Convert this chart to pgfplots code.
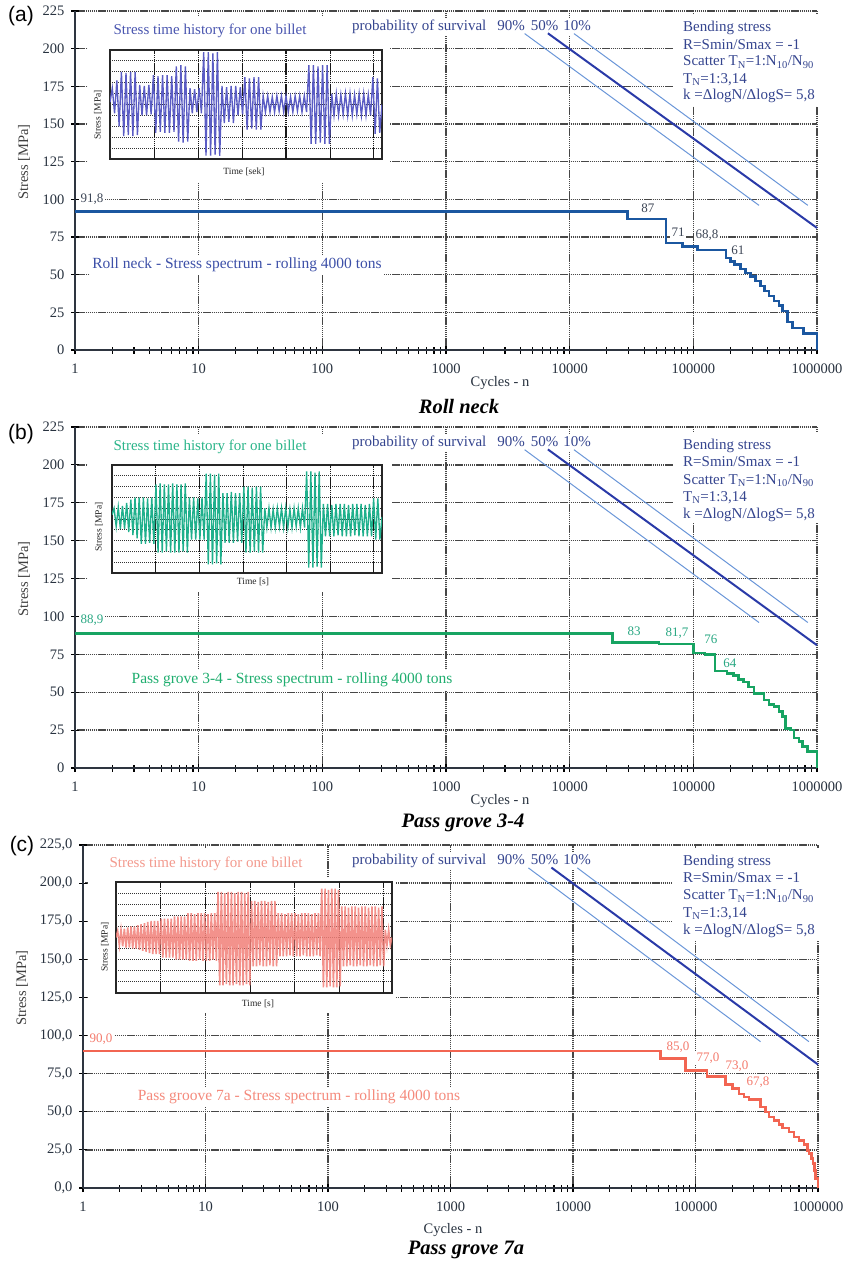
\documentclass[border=0pt]{standalone}
\usepackage{fontspec}
\setmainfont{Liberation Serif}
\newfontfamily\sansf{Liberation Sans}
\usepackage{pgfplots}
\usepackage{pgfplotstable}
\pgfplotsset{compat=1.18}

\newcommand{\fsz}[1]{\fontsize{#1}{#1}\selectfont}

\definecolor{axcol}{HTML}{2E3540}
\definecolor{tickcol}{HTML}{28323F}
\definecolor{annot}{HTML}{35458F}
\definecolor{snthickc}{HTML}{2A3AA8}
\definecolor{snthinc}{HTML}{6A96D8}
\definecolor{curA}{HTML}{1B57A0}
\definecolor{curB}{HTML}{17A462}
\definecolor{curC}{HTML}{F26552}
\definecolor{labA}{HTML}{3C4555}
\definecolor{labB}{HTML}{2AA883}
\definecolor{labC}{HTML}{F47A6C}
\definecolor{insA}{HTML}{5A5CC4}
\definecolor{insB}{HTML}{1FB08C}
\definecolor{insC}{HTML}{F28078}
\definecolor{titA}{HTML}{4A56B0}
\definecolor{titB}{HTML}{2BB58A}
\definecolor{titC}{HTML}{F39A8E}
\definecolor{specA}{HTML}{3D50A8}
\definecolor{specB}{HTML}{1FAE6F}
\definecolor{specC}{HTML}{F58A7C}

\pgfplotstableread[row sep=\\]{y\\5.2\\6.5\\4.2\\7.2\\3.0\\8.0\\2.1\\7.9\\2.2\\8.0\\2.1\\8.0\\2.2\\6.8\\4.0\\6.7\\4.0\\6.8\\4.1\\7.7\\2.4\\7.6\\2.5\\7.7\\2.4\\7.7\\2.4\\7.6\\2.5\\8.5\\1.6\\8.6\\1.5\\8.5\\1.6\\6.5\\4.2\\6.4\\4.3\\6.5\\4.2\\9.8\\0.3\\9.8\\0.3\\9.7\\0.4\\9.8\\0.3\\6.7\\3.3\\6.6\\3.4\\6.7\\3.3\\6.7\\4.0\\6.6\\4.1\\7.5\\2.7\\7.4\\2.8\\7.5\\2.7\\7.5\\2.7\\5.8\\4.3\\5.8\\4.3\\5.7\\4.3\\5.8\\4.4\\5.8\\4.3\\5.8\\4.3\\5.7\\4.3\\5.8\\4.4\\5.8\\4.3\\5.8\\4.3\\8.6\\1.4\\8.6\\1.4\\8.5\\1.5\\8.6\\1.4\\8.6\\1.4\\6.0\\4.0\\6.0\\4.0\\5.9\\4.1\\6.0\\4.0\\6.0\\4.0\\5.9\\4.1\\6.0\\4.0\\6.0\\4.0\\5.9\\4.0\\7.5\\2.3\\7.4\\2.4\\5.0\\}\sigA

\pgfplotstableread[row sep=\\]{y\\5.4\\6.0\\4.3\\6.1\\4.1\\6.2\\4.1\\6.5\\3.8\\6.8\\3.5\\7.0\\3.2\\7.0\\2.7\\7.0\\2.7\\6.9\\2.8\\7.0\\2.7\\8.2\\1.9\\8.3\\1.9\\8.2\\2.0\\8.2\\1.9\\8.3\\1.9\\8.2\\1.9\\8.2\\2.0\\8.3\\1.9\\7.0\\3.1\\7.0\\3.1\\6.9\\3.1\\7.0\\3.1\\9.2\\0.8\\9.2\\0.8\\9.1\\0.9\\9.2\\0.8\\7.4\\2.8\\7.4\\2.8\\7.5\\2.8\\7.4\\2.9\\7.4\\2.8\\8.0\\1.9\\8.0\\1.9\\7.9\\2.0\\8.0\\1.9\\8.0\\1.9\\6.0\\4.2\\6.0\\4.2\\5.9\\4.2\\6.0\\4.3\\6.0\\4.2\\6.0\\4.2\\5.9\\4.2\\6.0\\4.3\\6.0\\4.2\\6.0\\4.2\\9.4\\0.5\\9.4\\0.5\\9.3\\0.6\\9.4\\0.5\\6.4\\3.4\\6.4\\3.4\\6.3\\3.4\\6.4\\3.5\\6.4\\3.4\\6.4\\3.4\\6.3\\3.4\\6.4\\3.5\\6.4\\3.4\\6.4\\3.4\\6.3\\3.4\\6.4\\3.4\\6.9\\3.1\\6.9\\3.1\\5.2\\}\sigB

\pgfplotstableread[row sep=\\]{y\\5.0\\5.6\\4.3\\5.7\\4.2\\5.8\\4.1\\5.9\\4.1\\6.0\\4.0\\6.0\\4.0\\6.1\\3.9\\6.2\\3.8\\6.3\\3.7\\6.4\\3.6\\6.5\\3.5\\6.5\\3.5\\6.5\\3.5\\6.7\\3.2\\6.7\\3.2\\6.7\\3.2\\6.7\\3.2\\6.9\\3.0\\6.9\\3.0\\6.9\\3.0\\6.9\\3.0\\7.2\\2.9\\7.2\\2.9\\7.1\\2.9\\7.2\\3.0\\7.2\\2.9\\7.2\\2.9\\7.1\\2.9\\7.2\\3.0\\7.2\\2.9\\9.1\\0.7\\9.1\\0.7\\9.0\\0.8\\9.1\\0.7\\9.1\\0.7\\9.0\\0.8\\9.1\\0.7\\9.1\\0.7\\9.0\\0.8\\9.1\\0.7\\8.3\\2.4\\8.3\\2.4\\8.2\\2.5\\8.3\\2.4\\8.3\\2.4\\8.2\\2.5\\8.3\\2.4\\8.3\\2.4\\7.2\\3.3\\7.2\\3.3\\7.1\\3.3\\7.2\\3.4\\7.2\\3.3\\7.2\\3.3\\7.1\\3.3\\7.2\\3.4\\7.2\\3.3\\7.2\\3.3\\7.1\\3.3\\7.2\\3.4\\7.2\\3.3\\9.4\\0.5\\9.4\\0.5\\9.3\\0.6\\9.4\\0.5\\9.4\\0.5\\9.3\\0.6\\7.8\\2.4\\7.8\\2.4\\7.7\\2.5\\7.8\\2.4\\7.8\\2.4\\7.7\\2.5\\7.8\\2.4\\7.8\\2.4\\7.7\\2.5\\7.8\\2.4\\7.8\\2.4\\7.7\\2.5\\7.8\\2.4\\5.7\\4.3\\5.7\\4.3\\5.0\\}\sigC

\tikzset{
 btxt/.style={anchor=base west, inner sep=0pt, font={\fsz{15}}, text=annot},
 ptxt/.style={anchor=west, inner sep=2pt, fill=white, font={\fsz{15}}, text=annot},
 dtxt/.style={inner sep=1.5pt, fill=white, font={\fsz{13}}},
 stxt/.style={inner sep=2.5pt, fill=white, font={\fsz{15.5}}},
 insgh/.style={black!80, line width=1pt, dash pattern=on 1.3pt off 0.7pt},
 insgv/.style={black!90, line width=1.1pt, dash pattern=on 1.6pt off 0.5pt},
}

\newcommand{\probtext}{probability of survival\hspace{11pt}90\%\hspace{6pt}50\%\hspace{5pt}10\%}
\newcommand{\bendblock}[6]{%
 \node[btxt] at (rel axis cs:#1,#2) {Bending stress};
 \node[btxt] at (rel axis cs:#1,#3) {R=Smin/Smax = -1};
 \node[btxt] at (rel axis cs:#1,#4) {Scatter T\textsubscript{N}=1:N\textsubscript{10}/N\textsubscript{90}};
 \node[btxt] at (rel axis cs:#1,#5) {T\textsubscript{N}=1:3,14};
 \node[btxt] at (rel axis cs:#1,#6) {k =ΔlogN/ΔlogS= 5,8};
}
\newcommand{\insetgrid}{%
 \pgfplotsinvokeforeach{0.1,0.2,0.3,0.4,0.5,0.6,0.7,0.8,0.9}{\draw[insgh] (rel axis cs:0,##1) -- (rel axis cs:1,##1);}
 \pgfplotsinvokeforeach{0.162,0.325,0.487,0.647,0.810,0.970}{\draw[insgv] (rel axis cs:##1,0) -- (rel axis cs:##1,1);}
}

\begin{document}
\begin{tikzpicture}
\path[use as bounding box] (0,0) rectangle (844pt,-1264pt);

%================ Panel (a)
\begin{axis}[scale only axis, xmode=log, log basis x=10,
  xmin=1, xmax=1000000, ymin=0, ymax=225,
  axis x line*=bottom, axis y line*=left,
  x axis line style={line width=1.8pt, color=axcol},
  y axis line style={line width=1.4pt, color=axcol},
  xtick={1,10,100,1000,10000,100000,1000000},
  xticklabels={1,10,100,1000,10000,100000,1000000},
  minor xtick={2,3,4,5,6,7,8,9,20,30,40,50,60,70,80,90,200,300,400,500,600,700,800,900,2000,3000,4000,5000,6000,7000,8000,9000,20000,30000,40000,50000,60000,70000,80000,90000,200000,300000,400000,500000,600000,700000,800000,900000},
  ytick={0,25,50,75,100,125,150,175,200,225},
  grid=major,
  major grid style={color=black!72, line width=1.4pt, dash pattern=on 1.4pt off 0.7pt},
  tick align=center, major tick length=8pt, minor tick length=7pt,
  tick style={black, line width=1.1pt},
  xticklabel style={font={\fsz{14.5}}, text=tickcol, yshift=-6pt},
  yticklabel style={font={\fsz{14.5}}, text=tickcol, xshift=-3pt},
  clip=false,
  at={(75pt,-350pt)}, anchor=south west, width=742pt, height=339pt,
  yticklabels={0,25,50,75,100,125,150,175,200,225}]
 \fill[white] (rel axis cs:0.0175,0.4956) rectangle (rel axis cs:0.4245,0.9853);
 \fill[white] (rel axis cs:0.8059,0.7198) rectangle (rel axis cs:1.0283,0.9882);
 \node[ptxt] at (rel axis cs:0.3706,0.9528) {\probtext};
 \bendblock{0.8194}{0.9381}{0.8879}{0.8378}{0.7876}{0.7375}
 \node[dtxt, text=labA] at (rel axis cs:0.0229,0.4454) {91,8};
 \node[dtxt, text=labA] at (rel axis cs:0.7722,0.4189) {87};
 \node[dtxt, text=labA] at (rel axis cs:0.8127,0.3481) {71};
 \node[dtxt, text=labA] at (rel axis cs:0.8518,0.3392) {68,8};
 \node[dtxt, text=labA] at (rel axis cs:0.8935,0.2950) {61};
 \node[stxt, text=specA] at (rel axis cs:0.2183,0.2507) {Roll neck - Stress spectrum - rolling 4000 tons};
 \addplot[snthinc, line width=1pt] coordinates {(4325,210) (339600,96)};
 \addplot[snthickc, line width=2pt] coordinates {(6668,210.2) (1000000,81)};
 \addplot[snthinc, line width=1pt] coordinates {(10840,210) (843300,96)};
 \addplot[curA, line width=2.6pt, const plot] coordinates {(1,91.8) (29500,87) (59900,71) (81800,68.8) (107800,66.4) (183700,61.1) (199000,58.9) (214600,56.7) (240100,53.8) (263700,51.2) (289600,48.6) (318200,45.7) (349400,42.4) (376600,39.1) (408500,35.8) (448800,32.5) (493000,29.7) (524900,25.9) (576600,18.7) (633400,14.5) (778900,11.0) (1000000,0)};
\end{axis}
\begin{axis}[scale only axis, enlargelimits=false, ymin=0, ymax=10,
  xtick=\empty, ytick=\empty, axis line style={black!85, line width=1.3pt},
  axis background/.style={fill=white},
  at={(110pt,-159pt)}, anchor=south west, width=272pt, height=109pt]
 \insetgrid
 \addplot[insA, line width=1.35pt] table[x expr=\coordindex, y=y] {\sigA};
\end{axis}
\node[font={\fsz{15}}, text=titA] at (210pt,-31pt) {Stress time history for one billet};
\node[font={\fsz{9.5}}, text=black!85] at (244pt,-172pt) {Time [sek]};
\node[font={\fsz{9.5}}, text=black!85, rotate=90] at (98pt,-115pt) {Stress [MPa]};

%================ Panel (b)
\begin{axis}[scale only axis, xmode=log, log basis x=10,
  xmin=1, xmax=1000000, ymin=0, ymax=225,
  axis x line*=bottom, axis y line*=left,
  x axis line style={line width=1.8pt, color=axcol},
  y axis line style={line width=1.4pt, color=axcol},
  xtick={1,10,100,1000,10000,100000,1000000},
  xticklabels={1,10,100,1000,10000,100000,1000000},
  minor xtick={2,3,4,5,6,7,8,9,20,30,40,50,60,70,80,90,200,300,400,500,600,700,800,900,2000,3000,4000,5000,6000,7000,8000,9000,20000,30000,40000,50000,60000,70000,80000,90000,200000,300000,400000,500000,600000,700000,800000,900000},
  ytick={0,25,50,75,100,125,150,175,200,225},
  grid=major,
  major grid style={color=black!72, line width=1.4pt, dash pattern=on 1.4pt off 0.7pt},
  tick align=center, major tick length=8pt, minor tick length=7pt,
  tick style={black, line width=1.1pt},
  xticklabel style={font={\fsz{14.5}}, text=tickcol, yshift=-6pt},
  yticklabel style={font={\fsz{14.5}}, text=tickcol, xshift=-3pt},
  clip=false,
  at={(75pt,-768pt)}, anchor=south west, width=742pt, height=341pt,
  yticklabels={0,25,50,75,100,125,150,175,200,225}]
 \fill[white] (rel axis cs:0.0175,0.5161) rectangle (rel axis cs:0.4272,0.9795);
 \fill[white] (rel axis cs:0.8059,0.7185) rectangle (rel axis cs:1.0283,0.9853);
 \node[ptxt] at (rel axis cs:0.3706,0.9531) {\probtext};
 \bendblock{0.8194}{0.9355}{0.8856}{0.8328}{0.7830}{0.7331}
 \node[dtxt, text=labB] at (rel axis cs:0.0229,0.4340) {88,9};
 \node[dtxt, text=labB] at (rel axis cs:0.7534,0.4018) {83};
 \node[dtxt, text=labB] at (rel axis cs:0.8113,0.3959) {81,7};
 \node[dtxt, text=labB] at (rel axis cs:0.8571,0.3783) {76};
 \node[dtxt, text=labB] at (rel axis cs:0.8827,0.3079) {64};
 \node[stxt, text=specB] at (rel axis cs:0.2925,0.2581) {Pass grove 3-4 - Stress spectrum - rolling 4000 tons};
 \addplot[snthinc, line width=1pt] coordinates {(4325,210) (339600,96)};
 \addplot[snthickc, line width=2pt] coordinates {(6668,210.2) (1000000,81)};
 \addplot[snthinc, line width=1pt] coordinates {(10840,210) (843300,96)};
 \addplot[curB, line width=2.6pt, const plot] coordinates {(1,88.9) (22300,83) (52800,81.7) (100000,76) (124500,75) (150200,64) (187000,62.2) (211900,61.1) (232600,58.3) (255600,56.8) (280700,53.5) (308400,49.1) (372100,44.8) (408500,41.9) (448800,40.4) (493000,37.1) (524900,33.8) (558600,26.2) (613800,25.1) (653500,19.7) (717800,17.5) (764300,14.2) (839500,10.9) (1000000,0)};
\end{axis}
\begin{axis}[scale only axis, enlargelimits=false, ymin=0, ymax=10,
  xtick=\empty, ytick=\empty, axis line style={black!85, line width=1.3pt},
  axis background/.style={fill=white},
  at={(112pt,-573pt)}, anchor=south west, width=270pt, height=108pt]
 \insetgrid
 \addplot[insB, line width=1.35pt] table[x expr=\coordindex, y=y] {\sigB};
\end{axis}
\node[font={\fsz{15}}, text=titB] at (210pt,-447pt) {Stress time history for one billet};
\node[font={\fsz{9.5}}, text=black!85] at (253pt,-582pt) {Time [s]};
\node[font={\fsz{9.5}}, text=black!85, rotate=90] at (99pt,-527pt) {Stress [MPa]};

%================ Panel (c)
\begin{axis}[scale only axis, xmode=log, log basis x=10,
  xmin=1, xmax=1000000, ymin=0, ymax=225,
  axis x line*=bottom, axis y line*=left,
  x axis line style={line width=1.8pt, color=axcol},
  y axis line style={line width=1.4pt, color=axcol},
  xtick={1,10,100,1000,10000,100000,1000000},
  xticklabels={1,10,100,1000,10000,100000,1000000},
  minor xtick={2,3,4,5,6,7,8,9,20,30,40,50,60,70,80,90,200,300,400,500,600,700,800,900,2000,3000,4000,5000,6000,7000,8000,9000,20000,30000,40000,50000,60000,70000,80000,90000,200000,300000,400000,500000,600000,700000,800000,900000},
  ytick={0,25,50,75,100,125,150,175,200,225},
  grid=major,
  major grid style={color=black!72, line width=1.4pt, dash pattern=on 1.4pt off 0.7pt},
  tick align=center, major tick length=8pt, minor tick length=7pt,
  tick style={black, line width=1.1pt},
  xticklabel style={font={\fsz{14.5}}, text=tickcol, yshift=-6pt},
  yticklabel style={font={\fsz{14.5}}, text=tickcol, xshift=-3pt},
  clip=false,
  at={(83pt,-1188pt)}, anchor=south west, width=735pt, height=343pt,
  yticklabels={{0,0},{25,0},{50,0},{75,0},{100,0},{125,0},{150,0},{175,0},{200,0},{225,0}}]
 \fill[white] (rel axis cs:0.0231,0.9038) rectangle (rel axis cs:0.3116,0.9883);
 \fill[white] (rel axis cs:0.0068,0.5102) rectangle (rel axis cs:0.4245,0.9040);
 \fill[white] (rel axis cs:0.8027,0.7230) rectangle (rel axis cs:1.0272,0.9883);
 \node[ptxt] at (rel axis cs:0.3633,0.9534) {\probtext};
 \bendblock{0.8163}{0.9417}{0.8921}{0.8397}{0.7901}{0.7405}
 \node[dtxt, text=labC] at (rel axis cs:0.0245,0.4344) {90,0};
 \node[dtxt, text=labC] at (rel axis cs:0.8095,0.4111) {85,0};
 \node[dtxt, text=labC] at (rel axis cs:0.8503,0.3790) {77,0};
 \node[dtxt, text=labC] at (rel axis cs:0.8898,0.3557) {73,0};
 \node[dtxt, text=labC] at (rel axis cs:0.9184,0.3090) {67,8};
 \node[stxt, text=specC] at (rel axis cs:0.2939,0.2653) {Pass groove 7a - Stress spectrum - rolling 4000 tons};
 \addplot[snthinc, line width=1pt] coordinates {(4325,210) (339600,96)};
 \addplot[snthickc, line width=2pt] coordinates {(6668,210.2) (1000000,81)};
 \addplot[snthinc, line width=1pt] coordinates {(10840,210) (843300,96)};
 \addplot[curC, line width=2.6pt, const plot] coordinates {(1,90) (51800,85) (82800,77) (124500,73) (175900,67.8) (199600,65.1) (226100,61.8) (248500,59.6) (273100,57.9) (339800,53.1) (373300,49.8) (397500,46.5) (436700,44.3) (479800,41.7) (510700,39.3) (579400,36.7) (636800,33.4) (699800,31.2) (769000,28.6) (818800,24.7) (843400,22.5) (882600,19.2) (910000,15.9) (933800,11.6) (957300,6.1) (1000000,0)};
\end{axis}
\begin{axis}[scale only axis, enlargelimits=false, ymin=0, ymax=10,
  xtick=\empty, ytick=\empty, axis line style={black!85, line width=1.3pt},
  axis background/.style={fill=white},
  at={(116pt,-993pt)}, anchor=south west, width=276pt, height=111pt]
 \insetgrid
 \addplot[insC, line width=1.6pt, opacity=0.85] table[x expr=\coordindex, y=y] {\sigC};
\end{axis}
\node[font={\fsz{15}}, text=titC] at (206pt,-864pt) {Stress time history for one billet};
\node[font={\fsz{9.5}}, text=black!85] at (258pt,-1004pt) {Time [s]};
\node[font={\fsz{9.5}}, text=black!85, rotate=90] at (105pt,-947pt) {Stress [MPa]};

%================ outer labels
\node[font={\sansf\fsz{21}}] at (21pt,-16pt) {(a)};
\node[font={\sansf\fsz{21}}] at (21pt,-434pt) {(b)};
\node[font={\sansf\fsz{21}}] at (22pt,-846pt) {(c)};
\node[font={\fsz{14.5}}, text=black!75, rotate=90] at (24pt,-162pt) {Stress [MPa]};
\node[font={\fsz{14.5}}, text=black!75, rotate=90] at (24pt,-579pt) {Stress [MPa]};
\node[font={\fsz{14.5}}, text=black!75, rotate=90] at (22pt,-988pt) {Stress [MPa]};
\node[font={\fsz{14.5}}, text=tickcol] at (500pt,-383pt) {Cycles - n};
\node[font={\fsz{14.5}}, text=tickcol] at (500pt,-801pt) {Cycles - n};
\node[font={\fsz{14.5}}, text=tickcol] at (453pt,-1230pt) {Cycles - n};
\node[font={\bfseries\itshape\fsz{20.5}}] at (459pt,-406pt) {Roll neck};
\node[font={\bfseries\itshape\fsz{20.5}}] at (463pt,-823pt) {Pass grove 3-4};
\node[font={\bfseries\itshape\fsz{20.5}}] at (466pt,-1250pt) {Pass grove 7a};
\end{tikzpicture}
\end{document}
